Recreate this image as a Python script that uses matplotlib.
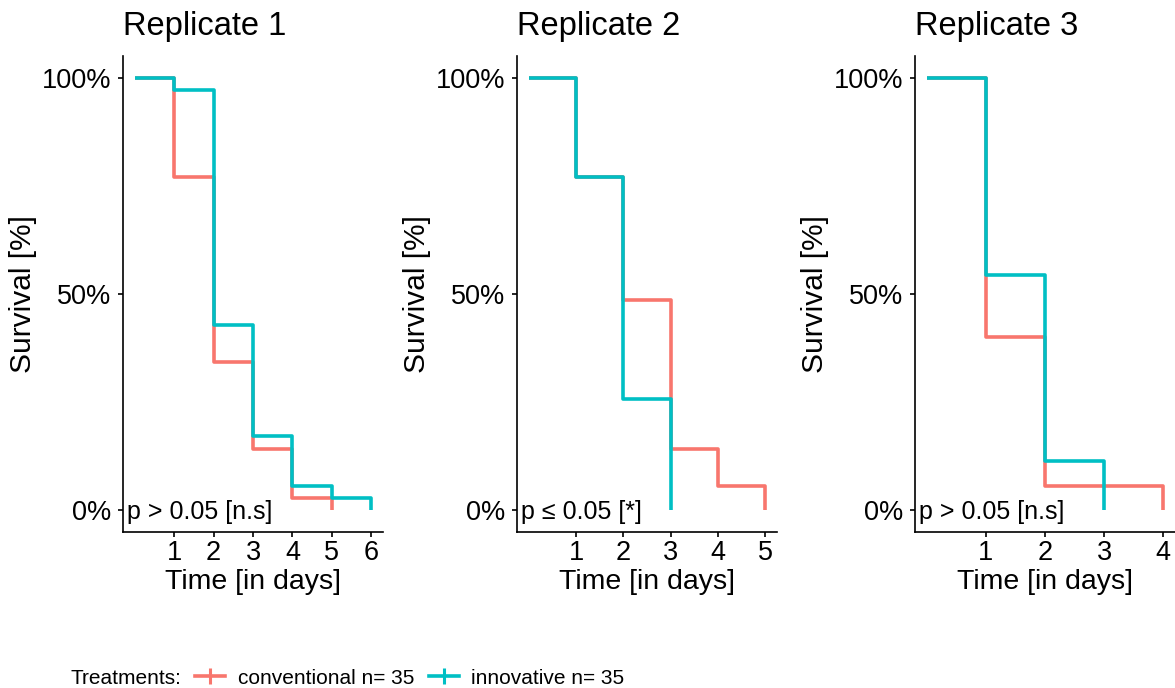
import matplotlib
matplotlib.use("Agg")
import matplotlib.pyplot as plt
from matplotlib.lines import Line2D
from matplotlib.ticker import FuncFormatter

plt.rcParams['font.family'] = ['Liberation Sans', 'DejaVu Sans']

n_total = 35
col_conv = '#F8766D'
col_inno = '#00BFC4'

# survivors per day (day 0, 1, 2, ...) for each replicate
rep1_conv = [35, 27, 12, 5, 1, 0]
rep1_inno = [35, 34, 15, 6, 2, 1, 0]
rep2_conv = [35, 27, 17, 5, 2, 0]
rep2_inno = [35, 27, 9, 0]
rep3_conv = [35, 14, 2, 2, 0]
rep3_inno = [35, 19, 4, 0]

titles = ['Replicate 1', 'Replicate 2', 'Replicate 3']
pvals = ['p > 0.05 [n.s]', 'p \u2264 0.05 [*]', 'p > 0.05 [n.s]']
conv_all = [rep1_conv, rep2_conv, rep3_conv]
inno_all = [rep1_inno, rep2_inno, rep3_inno]

fig = plt.figure(figsize=(11.75, 6.88), dpi=100)
lefts = [0.1047, 0.44, 0.7787]

for k in range(3):
    ax = fig.add_axes([lefts[k], 0.2267, 0.2213, 0.692])
    conv = conv_all[k]
    inno = inno_all[k]
    tmax = max(len(conv), len(inno)) - 1
    ax.step(range(len(conv)), [v / n_total for v in conv], where='post',
            color=col_conv, lw=2.6, solid_capstyle='butt')
    ax.step(range(len(inno)), [v / n_total for v in inno], where='post',
            color=col_inno, lw=2.6, solid_capstyle='butt')

    ax.set_xlim(-0.05 * tmax, tmax * 1.05)
    ax.set_ylim(-0.05, 1.05)
    ax.set_xticks(range(1, tmax + 1))
    ax.set_yticks([0, 0.5, 1])
    ax.yaxis.set_major_formatter(FuncFormatter(lambda v, p: '%d%%' % round(v * 100)))
    for s in ['top', 'right']:
        ax.spines[s].set_visible(False)
    for s in ['left', 'bottom']:
        ax.spines[s].set_linewidth(1.2)
    ax.tick_params(axis='both', length=3.6, width=1.2, labelsize=19.5, colors='black')
    ax.tick_params(axis='y', pad=5)
    ax.tick_params(axis='x', pad=2)

    ax.set_title(titles[k], loc='left', fontsize=23.5, pad=15)
    ax.set_xlabel('Time [in days]', fontsize=20.5, labelpad=2)
    ax.set_ylabel('Survival [%]', fontsize=21.5, labelpad=3)
    ax.text(0.015, 0.042, pvals[k], transform=ax.transAxes, fontsize=18,
            ha='left', va='center')

fig.text(0.0596, 0.0145, 'Treatments:', fontsize=15, ha='left', va='center')
handles = [
    Line2D([], [], color=col_conv, lw=2.6, marker='|', markersize=12, markeredgewidth=2.2),
    Line2D([], [], color=col_inno, lw=2.6, marker='|', markersize=12, markeredgewidth=2.2),
]
fig.legend(handles, ['conventional n= 35', 'innovative n= 35'],
           loc='center left', bbox_to_anchor=(0.166, 0.0145), ncol=2,
           frameon=False, fontsize=15, handlelength=1.45, handletextpad=0.6,
           columnspacing=0.7, borderpad=0, borderaxespad=0)

fig.savefig('out.png', dpi=100)
